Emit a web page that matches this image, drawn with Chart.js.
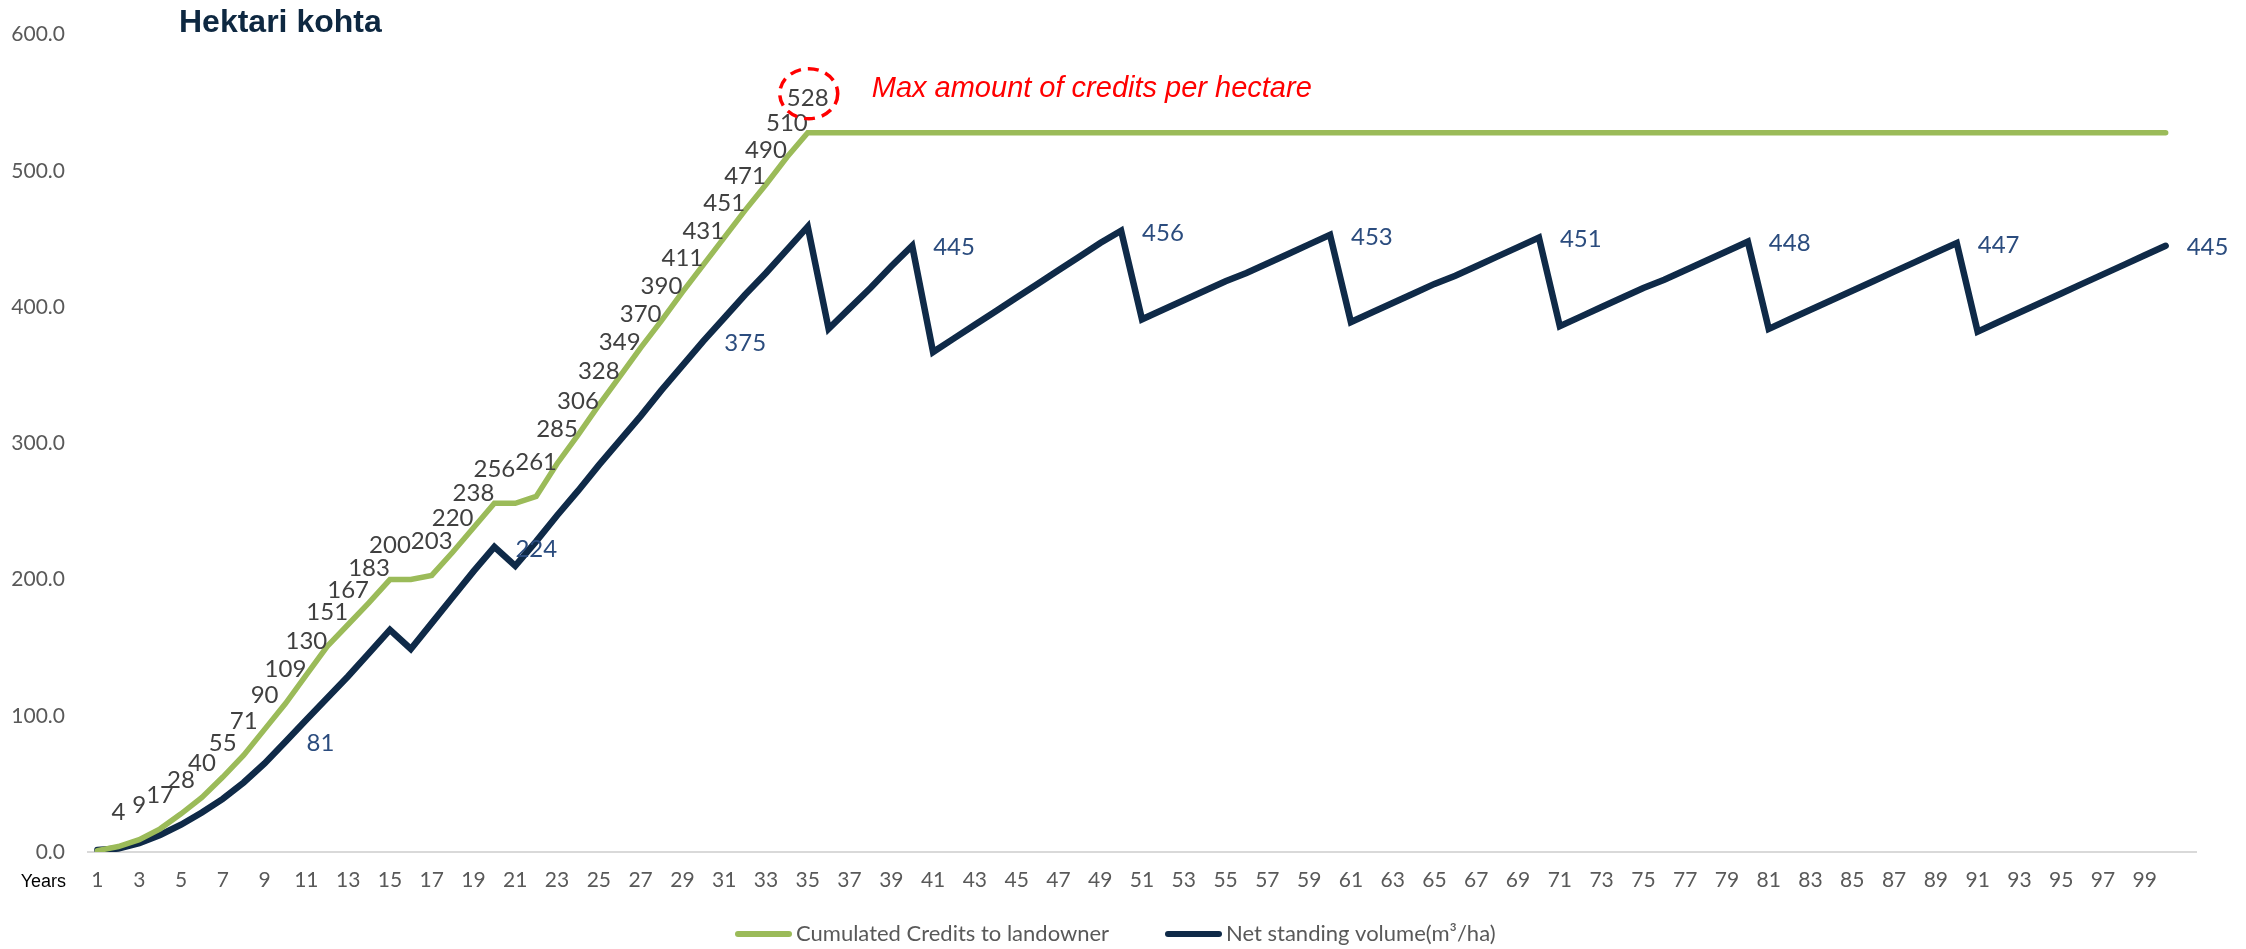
<!DOCTYPE html>
<html><head><meta charset="utf-8">
<script src="https://cdn.jsdelivr.net/npm/chart.js@4.4.1/dist/chart.umd.min.js"></script>
<style>html,body{margin:0;padding:0;background:#fff;}canvas{display:block;}</style>
</head><body>
<canvas id="c" width="2246" height="949"></canvas>
<script>
const chartTitle = 'Hektari kohta';
const axisCaption = 'Years';
const annotationText = 'Max amount of credits per hectare';
const seriesNames = ['Cumulated Credits to landowner', 'Net standing volume(m\u00B3/ha)'];

const years = [1,2,3,4,5,6,7,8,9,10,11,12,13,14,15,16,17,18,19,20,
  21,22,23,24,25,26,27,28,29,30,31,32,33,34,35,36,37,38,39,40,
  41,42,43,44,45,46,47,48,49,50,51,52,53,54,55,56,57,58,59,60,
  61,62,63,64,65,66,67,68,69,70,71,72,73,74,75,76,77,78,79,80,
  81,82,83,84,85,86,87,88,89,90,91,92,93,94,95,96,97,98,99,100];

const credits = [1,4,9,17,28,40,55,71,90,109,130,151,167,183,200,200,203,220,238,256,
  256,261,285,306,328,349,370,390,411,431,451,471,490,510,528,528,528,528,528,528,
  528,528,528,528,528,528,528,528,528,528,528,528,528,528,528,528,528,528,528,528,
  528,528,528,528,528,528,528,528,528,528,528,528,528,528,528,528,528,528,528,528,
  528,528,528,528,528,528,528,528,528,528,528,528,528,528,528,528,528,528,528,528];

const volume = [1.5,2.5,6.5,12.5,20,29,39,51,65,81,97,113,129,146,163,149,168,187,206,224,
  210,228,247,265,284,302,320,339,357,375,392,409,425,442,459,384,399,414,430,445,
  367,377,387,397,407,417,427,437,447,456,391,398,405,412,419,425,432,439,446,453,
  389,396,403,410,417,423,430,437,444,451,386,393,400,407,414,420,427,434,441,448,
  384,391,398,405,412,419,426,433,440,447,382,389,396,403,410,417,424,431,438,445];

const volumeLabelYears = [10,20,30,40,50,60,70,80,90,100];
const maxCreditYear = 35;
const yMin = 0, yMax = 600, yStep = 100;

const GREEN = '#9BBB59', NAVY = '#0F2A48', TICK = '#595959';

const overlay = {
  id: 'overlay',
  afterDatasetsDraw(chart) {
    const ctx = chart.ctx;
    const m0 = chart.getDatasetMeta(0), m1 = chart.getDatasetMeta(1);
    ctx.save();
    ctx.font = '24px Lato';
    ctx.fillStyle = '#404040';
    ctx.textAlign = 'center';
    ctx.textBaseline = 'middle';
    credits.forEach((v, i) => {
      if (i === 0 || v === credits[i - 1]) return;
      const p = m0.data[i];
      ctx.fillText(String(v), p.x, p.y - 34);
    });
    ctx.fillStyle = '#2B4C7E';
    ctx.textAlign = 'left';
    volumeLabelYears.forEach(yr => {
      const i = years.indexOf(yr);
      const p = m1.data[i];
      ctx.fillText(String(volume[i]), p.x + 21, p.y + 2);
    });
    const pm = m0.data[years.indexOf(maxCreditYear)];
    ctx.strokeStyle = '#FF0000';
    ctx.lineWidth = 3.5;
    ctx.setLineDash([11, 7]);
    ctx.beginPath();
    ctx.ellipse(pm.x + 1, pm.y - 39, 29, 25, 0, 0, Math.PI * 2);
    ctx.stroke();
    ctx.setLineDash([]);
    ctx.font = 'italic 29px "Liberation Sans"';
    ctx.fillStyle = '#FF0000';
    ctx.textAlign = 'left';
    ctx.fillText(annotationText, pm.x + 64, pm.y - 44);
    ctx.restore();
  },
  afterDraw(chart) {
    const ctx = chart.ctx;
    const ca = chart.chartArea;
    ctx.save();
    ctx.font = 'bold 32px "Liberation Sans"';
    ctx.fillStyle = '#0E2841';
    ctx.textAlign = 'left';
    ctx.textBaseline = 'middle';
    ctx.fillText(chartTitle, 179, 23);
    ctx.font = '18px "Liberation Sans"';
    ctx.fillStyle = '#000000';
    ctx.textAlign = 'right';
    ctx.fillText(axisCaption, 66, ca.bottom + 30);
    const ly = 934;
    const starts = [735, 1165];
    ctx.lineCap = 'round';
    chart.data.datasets.forEach((ds, k) => {
      const x0 = starts[k];
      ctx.strokeStyle = ds.borderColor;
      ctx.lineWidth = 6;
      ctx.beginPath();
      ctx.moveTo(x0 + 3, ly);
      ctx.lineTo(x0 + 54, ly);
      ctx.stroke();
      ctx.font = '22px Lato';
      ctx.fillStyle = TICK;
      ctx.textAlign = 'left';
      ctx.fillText(ds.label, x0 + 61, ly);
    });
    ctx.restore();
  }
};

function build() {
  const labels = years.map(String).concat(['']);
  new Chart(document.getElementById('c'), {
    type: 'line',
    data: {
      labels: labels,
      datasets: [
        { label: seriesNames[0], data: credits, borderColor: GREEN, backgroundColor: GREEN,
          borderWidth: 5.5, pointRadius: 0, tension: 0, borderCapStyle: 'round', fill: false },
        { label: seriesNames[1], data: volume, borderColor: NAVY, backgroundColor: NAVY,
          borderWidth: 6.5, pointRadius: 0, tension: 0, borderCapStyle: 'round', fill: false }
      ]
    },
    options: {
      responsive: false,
      animation: false,
      layout: { padding: { left: 0, right: 49, top: 29, bottom: 47 } },
      plugins: { legend: { display: false }, tooltip: { enabled: false }, title: { display: false } },
      scales: {
        x: {
          type: 'category',
          offset: true,
          grid: { display: false, drawTicks: false },
          border: { display: false },
          ticks: {
            autoSkip: false, maxRotation: 0, minRotation: 0, padding: 16,
            color: TICK, font: { family: 'Lato', size: 21 },
            callback: function (v, i) { return i % 2 === 0 ? this.getLabelForValue(v) : ''; }
          },
          afterFit(s) { s.height = 50; }
        },
        y: {
          min: yMin, max: yMax,
          grid: { drawTicks: false, lineWidth: 2,
            color: c => (c.tick && c.tick.value === 0) ? '#D9D9D9' : 'rgba(0,0,0,0)' },
          border: { display: false },
          ticks: { stepSize: yStep, padding: 22, color: TICK, font: { family: 'Lato', size: 21 },
            callback: v => Number(v).toFixed(1) },
          afterFit(s) { s.width = 87; }
        }
      }
    },
    plugins: [overlay]
  });
}

const fontLoads = ['24px Lato', '22px Lato', 'italic 29px "Liberation Sans"', 'bold 32px "Liberation Sans"', '18px "Liberation Sans"']
  .map(f => document.fonts.load(f).catch(() => null));
Promise.all(fontLoads).then(build, build);
</script>
</body></html>
